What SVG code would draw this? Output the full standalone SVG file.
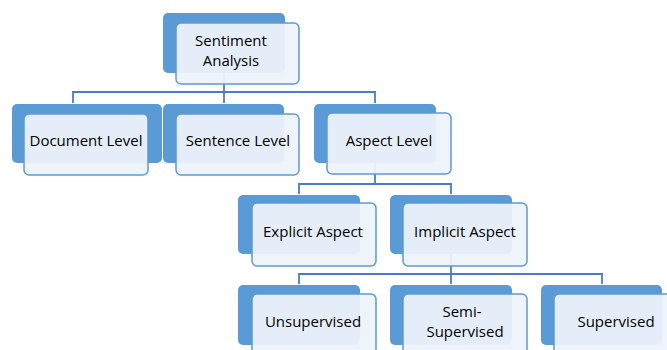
<svg xmlns="http://www.w3.org/2000/svg" width="667" height="350" viewBox="0 0 667 350">
<style>
.back{fill:#5b9bd5}
.front{fill:#eef3fa;fill-opacity:0.94;stroke:#5b9bd5;stroke-width:1.5}
.conn{fill:none;stroke:#4a7ebb;stroke-width:1.8}
text{font-family:"Open Sans","Liberation Sans",sans-serif;font-size:15px;fill:#000;text-anchor:middle}
</style>
<rect width="667" height="350" fill="#ffffff"/>
<g id="connectors">
<path class="conn" d="M224 73 V103 M73 103 V92 H375 V103"/>
<path class="conn" d="M375 163 V184 M299 194 V184 H451 V194"/>
<path class="conn" d="M451 254 V274 M299 284 V274 H602 V284 M451 274 V284"/>
</g>
<g id="sentiment-analysis">
<rect class="back" x="163" y="13" width="122" height="60" rx="5"/>
<rect class="front" x="176" y="23" width="123" height="61" rx="5"/>
<text x="231" y="46">Sentiment</text>
<text x="231" y="66">Analysis</text>
</g>
<g id="document-level">
<rect class="back" x="12" y="104" width="150" height="59" rx="5"/>
<rect class="front" x="24" y="114" width="124" height="61" rx="5"/>
<text x="86" y="146">Document Level</text>
</g>
<g id="sentence-level">
<rect class="back" x="163" y="104" width="121" height="59" rx="5"/>
<rect class="front" x="176" y="114" width="123" height="61" rx="5"/>
<text x="238" y="146">Sentence Level</text>
</g>
<g id="aspect-level">
<rect class="back" x="314" y="104" width="122" height="59" rx="5"/>
<rect class="front" x="327" y="113" width="124" height="61" rx="5"/>
<text x="389" y="146">Aspect Level</text>
</g>
<g id="explicit-aspect">
<rect class="back" x="238" y="195" width="122" height="59" rx="5"/>
<rect class="front" x="252" y="203" width="124" height="63" rx="5"/>
<text x="313" y="237">Explicit Aspect</text>
</g>
<g id="implicit-aspect">
<rect class="back" x="390" y="195" width="122" height="59" rx="5"/>
<rect class="front" x="403" y="203" width="124" height="63" rx="5"/>
<text x="465" y="237">Implicit Aspect</text>
</g>
<g id="unsupervised">
<rect class="back" x="238" y="285" width="122" height="60" rx="5"/>
<rect class="front" x="252" y="294" width="124" height="70" rx="5"/>
<text x="313" y="327">Unsupervised</text>
</g>
<g id="semi-supervised">
<rect class="back" x="390" y="285" width="122" height="60" rx="5"/>
<rect class="front" x="403" y="294" width="124" height="70" rx="5"/>
<text x="462" y="317">Semi-</text>
<text x="465" y="337">Supervised</text>
</g>
<g id="supervised">
<rect class="back" x="541" y="285" width="121" height="60" rx="5"/>
<rect class="front" x="554" y="294" width="124" height="70" rx="5"/>
<text x="616" y="327">Supervised</text>
</g>
</svg>
